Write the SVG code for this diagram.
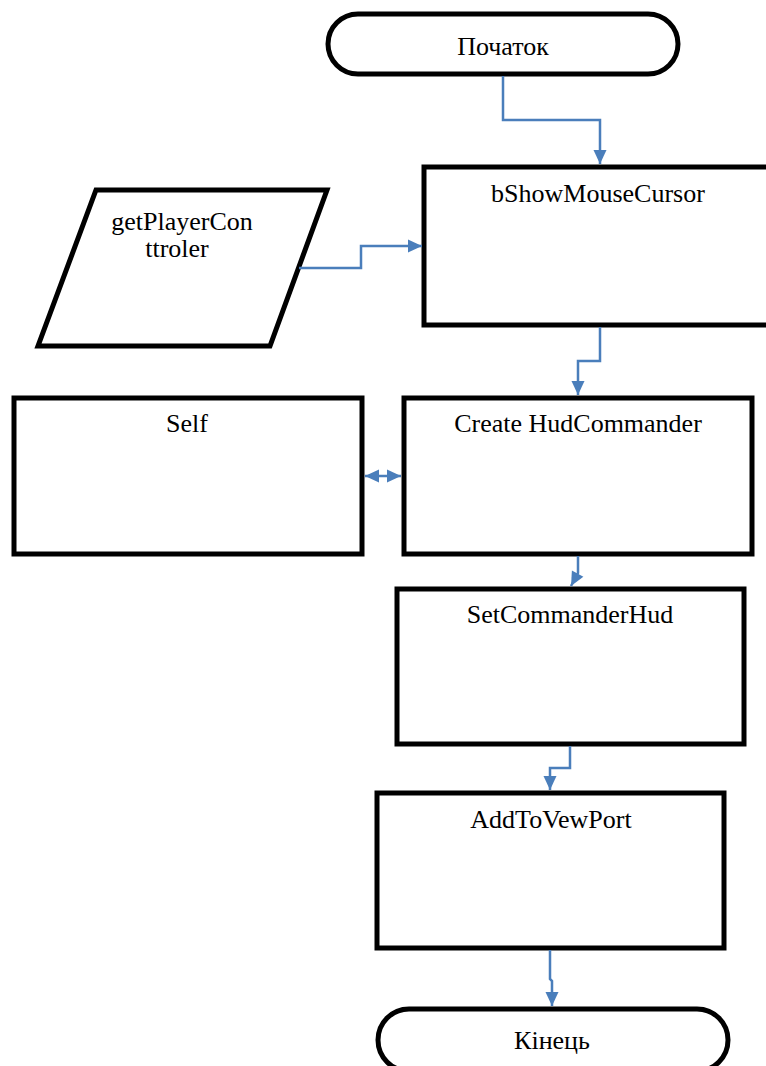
<svg xmlns="http://www.w3.org/2000/svg" width="766" height="1066" viewBox="0 0 766 1066">
<style>
.box{fill:#fff;stroke:#000;stroke-width:5}
.lbl{font-family:"Liberation Serif","Times New Roman",serif;font-size:26px;fill:#000;text-anchor:middle}
.con{fill:none;stroke:#4a7ebb;stroke-width:2.5}
</style>
<defs>
<marker id="ah" markerUnits="userSpaceOnUse" markerWidth="16" markerHeight="16" viewBox="0 0 16 16" refX="15" refY="8" orient="auto">
<path d="M1,1.5 L15,8 L1,14.5 Z" fill="#4a7ebb"/>
</marker>
<marker id="ahs" markerUnits="userSpaceOnUse" markerWidth="16" markerHeight="16" viewBox="0 0 16 16" refX="15" refY="8" orient="auto-start-reverse">
<path d="M1,1.5 L15,8 L1,14.5 Z" fill="#4a7ebb"/>
</marker>
</defs>
<rect width="766" height="1066" fill="#fff"/>
<g id="start">
<rect class="box" x="328" y="14" width="350" height="60" rx="30" ry="30"/>
<text class="lbl" x="503" y="55">Початок</text>
</g>
<g id="bShowMouseCursor">
<rect class="box" x="424" y="167" width="360" height="158"/>
<text class="lbl" x="598" y="202">bShowMouseCursor</text>
</g>
<g id="getPlayerController">
<polygon class="box" points="96,190 327,190 270,346 38,346"/>
<text class="lbl" x="182" y="230">getPlayerCon</text>
<text class="lbl" x="177" y="257">ttroler</text>
</g>
<g id="self">
<rect class="box" x="14" y="398" width="348" height="156"/>
<text class="lbl" x="187" y="432">Self</text>
</g>
<g id="createHud">
<rect class="box" x="404" y="398" width="348" height="156"/>
<text class="lbl" x="578" y="432">Create HudCommander</text>
</g>
<g id="setCommanderHud">
<rect class="box" x="397" y="589" width="347" height="155"/>
<text class="lbl" x="570" y="623">SetCommanderHud</text>
</g>
<g id="addToViewPort">
<rect class="box" x="377" y="793" width="347" height="155"/>
<text class="lbl" x="551" y="828">AddToVewPort</text>
</g>
<g id="end">
<rect class="box" x="378" y="1009" width="350" height="62" rx="31" ry="31"/>
<text class="lbl" x="552" y="1049">Кінець</text>
</g>
<g id="connectors">
<path class="con" d="M503,76 V120 H600 V164" marker-end="url(#ah)"/>
<path class="con" d="M299,268 H361 V246 H422" marker-end="url(#ah)"/>
<path class="con" d="M600,327 V361 H578 V395" marker-end="url(#ah)"/>
<path class="con" d="M365,476 H401" marker-start="url(#ahs)" marker-end="url(#ah)"/>
<path class="con" d="M578,556 V573 L571,586" marker-end="url(#ah)"/>
<path class="con" d="M570,746 V768 H550 V790" marker-end="url(#ah)"/>
<path class="con" d="M550,950 V979 L552,981 V1006" marker-end="url(#ah)"/>
</g>
</svg>
